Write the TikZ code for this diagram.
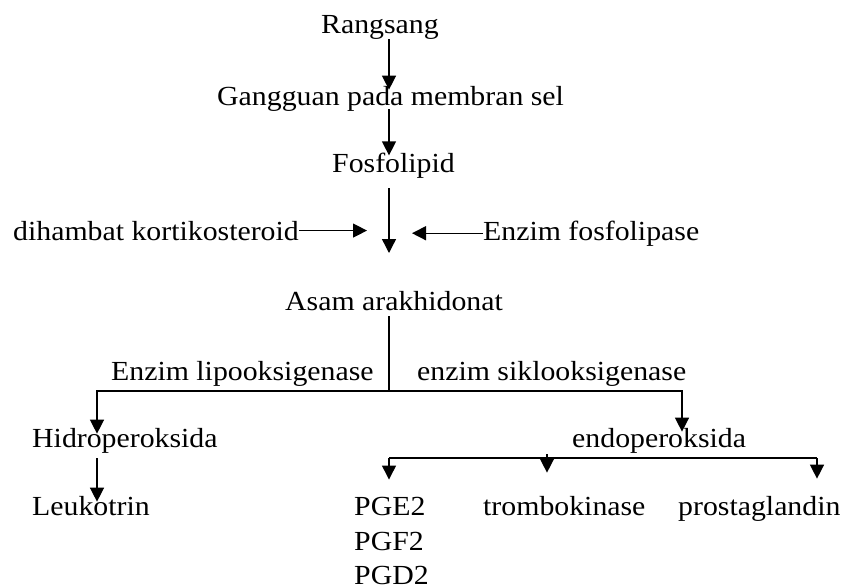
\documentclass[tikz,border=0pt]{standalone}
\usepackage{fontspec}
\setmainfont{Liberation Serif}[FakeStretch=1.08]
\usetikzlibrary{arrows.meta}
\begin{document}
\begin{tikzpicture}[x=1pt,y=-1pt]
  \tikzstyle{teks}=[inner sep=0pt, anchor=base west, font=\fontsize{27.6}{33}\selectfont]
  \tikzstyle{garis}=[line width=1.4pt]
  \tikzstyle{panah}=[garis, -{Triangle[width=14pt,length=14pt]}]
  \useasboundingbox (0,0) rectangle (843,587);
  \node[teks] (rangsang) at (321,33) {Rangsang};
  \node[teks] (gangguan) at (217,105) {Gangguan pada membran sel};
  \node[teks] (fosfolipid) at (332,172) {Fosfolipid};
  \node[teks] (kortiko) at (13,240) {dihambat kortikosteroid};
  \node[teks] (fosfolipase) at (483,240) {Enzim fosfolipase};
  \node[teks] (asam) at (285,310) {Asam arakhidonat};
  \node[teks] (lipo) at (111,380) {Enzim lipooksigenase};
  \node[teks] (siklo) at (417,380) {enzim siklooksigenase};
  \node[teks] (hidro) at (32,447) {Hidroperoksida};
  \node[teks] (endo) at (572,447) {endoperoksida};
  \node[teks] (leukotrin) at (32,515) {Leukotrin};
  \node[teks] (pge) at (354,515) {PGE2};
  \node[teks] (pgf) at (354,550) {PGF2};
  \node[teks, text depth=0pt] (pgd) at (354,584) {PGD2};
  \node[teks] (trombo) at (483,515) {trombokinase};
  \node[teks] (prosta) at (678,515) {prostaglandin};
  % titik bantu
  \coordinate (sumbu) at (389,0);
  \coordinate (hambat) at (367,0);
  \coordinate (enzim) at (412,0);
  \coordinate (ujung) at (389,253);
  \coordinate (cabang) at (389,391);
  \coordinate (kiri) at (97,0);
  \coordinate (kanan) at (682,0);
  \coordinate (bagi) at (389,458);
  \coordinate (bagitengah) at (547,458);
  \coordinate (bagikanan) at (817,458);
  % alur utama
  \path[panah] (rangsang.south -| sumbu) edge[shorten >=-4pt] (gangguan.north -| sumbu);
  \path[panah] (gangguan.south -| sumbu) edge[shorten <=-2pt, shorten >=-3pt] (fosfolipid.north -| sumbu);
  \path[panah] (fosfolipid.south -| sumbu) edge[shorten <=10pt] (ujung);
  \path[panah] (kortiko.east) edge (kortiko.east -| hambat);
  \path[panah] (fosfolipase.west) edge (fosfolipase.west -| enzim);
  % cabang enzim
  \draw[garis, shorten <=6pt] (asam.south -| sumbu) -- (cabang);
  \draw[panah, shorten >=-6pt] (cabang) -| (hidro.north -| kiri);
  \draw[panah, shorten >=-4pt] (cabang) -| (endo.north -| kanan);
  \draw[panah, shorten <=5pt, shorten >=-6pt] (hidro.south -| kiri) -- (leukotrin.north -| kiri);
  % cabang endoperoksida
  \draw[garis] (bagi) -- (bagikanan);
  \draw[panah, shorten >=17pt] (bagi) -- (pge.north -| bagi);
  \draw[panah, shorten >=23pt, shorten <=-4pt] (bagitengah) -- (trombo.north -| bagitengah);
  \draw[panah, shorten >=17pt] (bagikanan) -- (prosta.north -| bagikanan);
\end{tikzpicture}
\end{document}
